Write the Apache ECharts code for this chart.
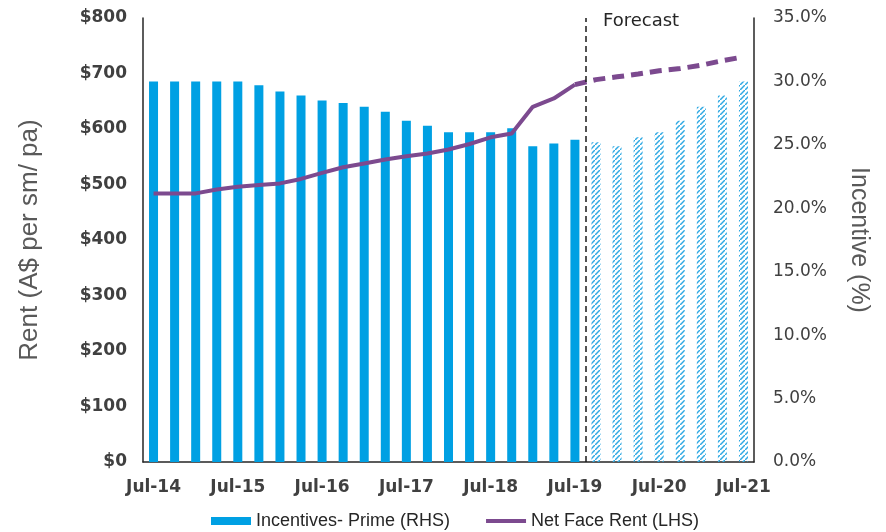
<!DOCTYPE html>
<html>
<head>
<meta charset="utf-8">
<script src="https://cdn.jsdelivr.net/npm/echarts@6/dist/echarts.min.js"></script>
<style>
  html, body { margin: 0; padding: 0; background: #fff; }
  #chart { width: 886px; height: 532px; }
</style>
</head>
<body>
<div id="chart"></div>
<script>
// quarterly periods, forecast starts after Jul-19
const quarters = [
  'Jul-14', 'Oct-14', 'Jan-15', 'Apr-15', 'Jul-15', 'Oct-15', 'Jan-16', 'Apr-16',
  'Jul-16', 'Oct-16', 'Jan-17', 'Apr-17', 'Jul-17', 'Oct-17', 'Jan-18', 'Apr-18',
  'Jul-18', 'Oct-18', 'Jan-19', 'Apr-19', 'Jul-19', 'Oct-19', 'Jan-20', 'Apr-20',
  'Jul-20', 'Oct-20', 'Jan-21', 'Apr-21', 'Jul-21'
]
const forecastStart = 21

// Incentives - Prime (%), RHS
const incentives = [
  30.0, 30.0, 30.0, 30.0, 30.0, 29.7, 29.2, 28.9, 28.5, 28.3, 28.0, 27.6, 26.9, 26.5,
  26.0, 26.0, 26.0, 26.3, 24.9, 25.1, 25.4, 25.2, 24.9, 25.6, 26.0, 26.9, 28.0, 28.9, 30.0
]

// Net face rent ($), LHS
const rentActual = [
  484, 484, 484, 491, 496, 499, 502, 510, 521, 531, 538, 545, 551, 556, 563, 573,
  585, 592, 640, 655, 680
]
const rentForecast = [680, 689, 694, 699, 705, 709, 715, 723, 730] // Jul-19 .. Jul-21

const rentTicks = [0, 800, 100]
const incentiveTicks = [0, 35, 5]

const colors = {
  blue: '#00A0E3',
  hatch: '#2FA9E3',
  purple: '#7C4A8F',
  axis: '#262626',
  label: '#404040',
  name: '#595959'
}

// hatch pattern for forecast bars
const hatch = document.createElement('canvas')
hatch.width = 5
hatch.height = 5
const hctx = hatch.getContext('2d')
hctx.strokeStyle = colors.hatch
hctx.lineWidth = 1.5
hctx.beginPath()
hctx.moveTo(-1, 6)
hctx.lineTo(6, -1)
hctx.stroke()

const barData = incentives.map((v, i) => i < forecastStart
  ? v
  : { value: v, itemStyle: { color: { image: hatch, repeat: 'repeat' } } })

const lineActual = quarters.map((q, i) => i < rentActual.length ? rentActual[i] : null)
const lineForecast = quarters.map((q, i) => {
  const k = i - (forecastStart - 1)
  return k >= 0 ? rentForecast[k] : null
})

const chart = echarts.init(document.getElementById('chart'), null, { renderer: 'canvas' })

chart.setOption({
  animation: false,
  textStyle: { fontFamily: 'Liberation Sans' },
  grid: { left: 143, right: 132, top: 18, bottom: 70 },
  legend: {
    data: [
      { name: 'Incentives- Prime (RHS)', icon: 'rect' },
      { name: 'Net Face Rent (LHS)', icon: 'path://M0 0H40V4H0Z' }
    ],
    left: 206,
    top: 507,
    itemWidth: 40,
    itemHeight: 8,
    itemGap: 36,
    textStyle: { fontSize: 18, color: '#262626', fontFamily: 'Liberation Sans' }
  },
  graphic: [{
    type: 'text',
    left: 603,
    top: 12,
    style: { text: 'Forecast', font: '18px "DejaVu Sans"', fill: '#262626' }
  }],
  xAxis: [
    {
      type: 'category',
      data: quarters,
      axisLine: { lineStyle: { color: colors.axis, width: 1.5 } },
      axisTick: { inside: true, length: 4, interval: 3, lineStyle: { color: colors.axis } },
      axisLabel: {
        interval: 3,
        margin: 17,
        fontSize: 17,
        fontWeight: 'bold',
        fontFamily: 'DejaVu Sans',
        color: colors.label
      },
      splitLine: { show: false }
    },
    {
      type: 'value',
      min: -0.5,
      max: quarters.length - 0.5,
      show: false
    }
  ],
  yAxis: [
    {
      type: 'value',
      min: rentTicks[0],
      max: rentTicks[1],
      interval: rentTicks[2],
      name: 'Rent (A$ per sm/ pa)',
      nameLocation: 'middle',
      nameGap: 100,
      nameTextStyle: { fontSize: 26, color: colors.name, fontFamily: 'Liberation Sans' },
      axisLine: { show: true, onZero: false, lineStyle: { color: colors.axis, width: 1.5 } },
      axisTick: { show: false },
      splitLine: { show: false },
      axisLabel: {
        margin: 16,
        fontSize: 17,
        fontWeight: 'bold',
        fontFamily: 'DejaVu Sans',
        color: colors.label,
        formatter: v => '$' + v
      }
    },
    {
      type: 'value',
      min: incentiveTicks[0],
      max: incentiveTicks[1],
      interval: incentiveTicks[2],
      name: 'Incentive (%)',
      nameLocation: 'middle',
      nameRotate: -90,
      nameGap: 92,
      nameTextStyle: { fontSize: 25, color: colors.name, fontFamily: 'Liberation Sans' },
      axisLine: { show: true, onZero: false, lineStyle: { color: colors.axis, width: 1.5 } },
      axisTick: { show: false },
      splitLine: { show: false },
      axisLabel: {
        margin: 19,
        fontSize: 17,
        fontFamily: 'DejaVu Sans',
        color: colors.label,
        formatter: v => v.toFixed(1) + '%'
      }
    }
  ],
  series: [
    {
      name: 'Incentives- Prime (RHS)',
      type: 'bar',
      yAxisIndex: 1,
      barWidth: 9,
      data: barData,
      itemStyle: { color: colors.blue }
    },
    {
      name: 'Net Face Rent (LHS)',
      type: 'line',
      yAxisIndex: 0,
      data: lineActual,
      symbol: 'none',
      lineStyle: { color: colors.purple, width: 4 },
      itemStyle: { color: colors.purple },
      z: 3
    },
    {
      name: 'Net Face Rent forecast',
      type: 'line',
      yAxisIndex: 0,
      data: lineForecast,
      symbol: 'none',
      lineStyle: { color: colors.purple, width: 5, type: [12, 7] },
      itemStyle: { color: colors.purple },
      z: 3
    },
    {
      // forecast divider between Jul-19 and Oct-19
      name: 'divider',
      type: 'line',
      xAxisIndex: 1,
      yAxisIndex: 0,
      data: [],
      markLine: {
        silent: true,
        symbol: 'none',
        label: { show: false },
        lineStyle: { color: '#1a1a1a', width: 1.5, type: [6, 4] },
        data: [{ xAxis: forecastStart - 0.5 }]
      }
    }
  ]
})
</script>
</body>
</html>
